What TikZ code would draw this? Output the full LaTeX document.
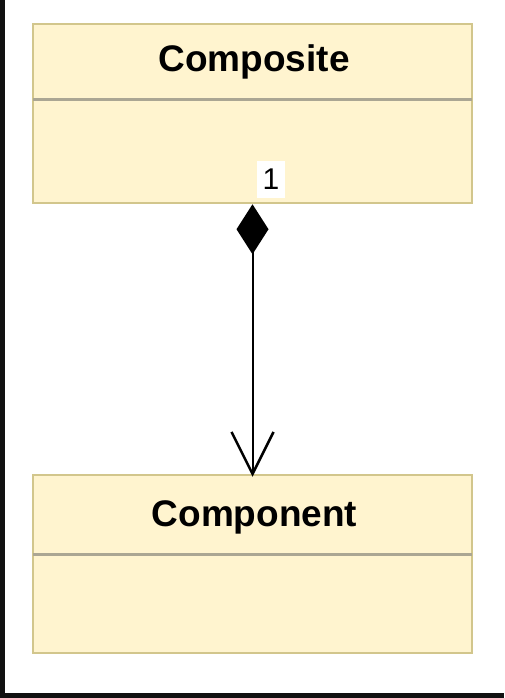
\documentclass[tikz,border=0pt]{standalone}
\usepackage{fontspec}
\setmainfont{Liberation Sans}
\usetikzlibrary{arrows.meta,calc}
\definecolor{umlfill}{HTML}{FFF4CF}
\definecolor{umlstroke}{HTML}{D2C68C}
\definecolor{umldiv}{HTML}{ABA693}
\definecolor{frameblack}{HTML}{111111}
\tikzset{
  classbox/.style={draw=umlstroke, fill=umlfill, line width=2.5pt, minimum width=439pt, inner sep=0pt},
  divider/.style={draw=umldiv, line width=2.5pt},
  title/.style={font=\fontsize{37}{42}\selectfont\bfseries, text=black, inner sep=0pt, anchor=base},
  conn/.style={draw=black, line width=2pt},
  mult/.style={fill=white, font=\fontsize{30}{34}\selectfont, inner sep=0pt, minimum width=28pt, minimum height=37pt}
}
\begin{document}
\begin{tikzpicture}[x=1pt,y=-1pt]
\useasboundingbox (0,0) rectangle (504,698);
\fill[white] (0,0) rectangle (504,698);
\fill[frameblack] (0,0) rectangle (5,698);
\fill[frameblack] (0,693) rectangle (504,698);
% classes
\node[classbox, minimum height=179pt] (composite) at (252.5,113.5) {};
\draw[divider] ($(composite.north west)+(1.25,77)$) -- ($(composite.north east)+(-1.25,77)$);
\node[title] (compositeT) at (254,72) {Composite};
\node[classbox, minimum height=178pt] (component) at (252.5,564) {};
\draw[divider] ($(component.north west)+(1.25,80.5)$) -- ($(component.north east)+(-1.25,80.5)$);
\node[title] (componentT) at (254.5,526) {Component};
% connector
\draw[conn, {Diamond[length=50pt,width=32pt,fill=black]}-{Straight Barb[length=42pt,width=42pt,line width=2.5pt]}] (composite.south) -- ([yshift=-3pt]component.north);
\node[mult] (m1) at (271,179.5) {1};
\end{tikzpicture}
\end{document}
